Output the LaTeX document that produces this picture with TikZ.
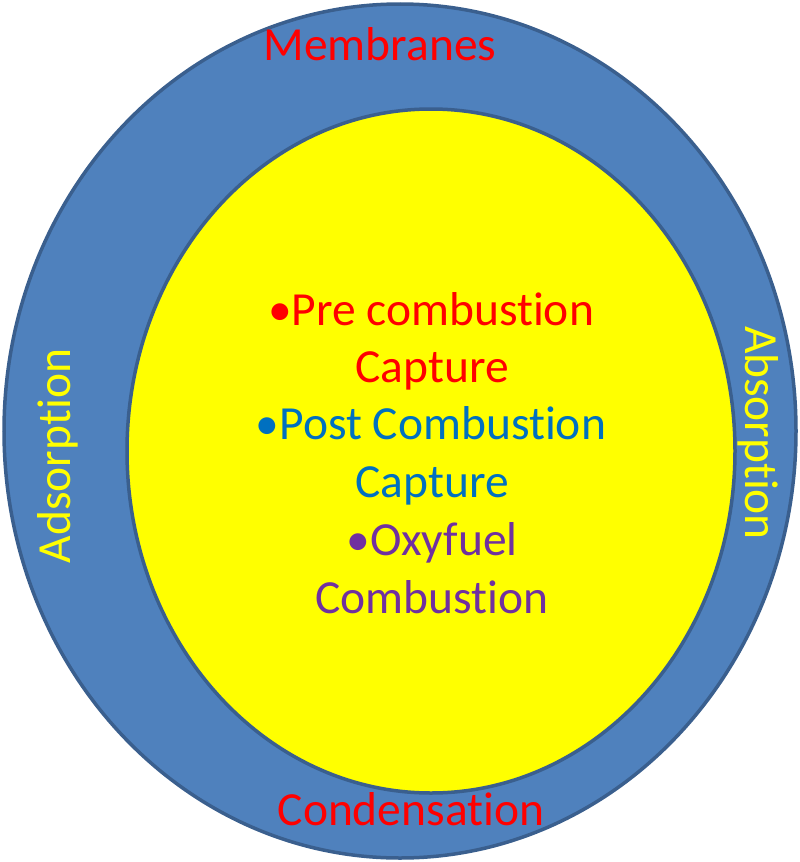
\documentclass[tikz,border=0pt]{standalone}
\usepackage{fontspec}
\setmainfont{Carlito}[Ligatures=NoCommon]
\definecolor{ringblue}{HTML}{4F81BD}
\definecolor{ringedge}{HTML}{3A5F8E}
\definecolor{txtblue}{HTML}{0070C0}
\definecolor{txtpurple}{HTML}{7030A0}
\definecolor{txtyellow}{HTML}{FFFF00}
\definecolor{innerfill}{HTML}{FFFF00}
\begin{document}
\begin{tikzpicture}[x=1pt,y=1pt,
  ring/.style={draw=ringedge,line width=3.5pt},
  lbl/.style={inner sep=0pt,anchor=base,font=\fontsize{47.5}{57}\selectfont}]
\useasboundingbox (0,0) rectangle (800,-862);
\draw[ring,fill=ringblue] (400,-431) ellipse [x radius=396, y radius=427];
\draw[ring,fill=innerfill] (431,-451) ellipse [x radius=304, y radius=342];
\node[lbl,text=red] (mem) at (380,-60) {Membranes};
\node[lbl,text=red] (cond) at (411,-825) {Condensation};
\node[lbl,text=txtyellow,rotate=90] (ads) at (70,-456) {Adsorption};
\node[lbl,text=txtyellow,rotate=-90] (abs) at (745,-433) {Absorption};
\node[lbl,text=red] (l1) at (431,-325) {•Pre combustion};
\node[lbl,text=red] (l2) at (432,-382) {Capture};
\node[lbl,text=txtblue] (l3) at (431,-439) {•Post Combustion};
\node[lbl,text=txtblue] (l4) at (432,-497) {Capture};
\node[lbl,text=txtpurple] (l5) at (432,-555) {•Oxyfuel};
\node[lbl,text=txtpurple] (l6) at (432,-613) {Combustion};
\end{tikzpicture}
\end{document}
